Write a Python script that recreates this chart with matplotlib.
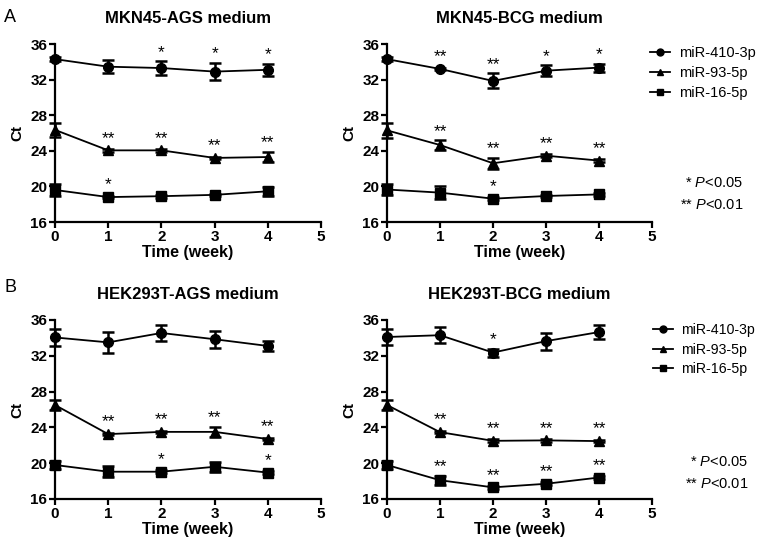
import numpy as np
import matplotlib.pyplot as plt
from matplotlib.lines import Line2D

plt.rcParams['font.family'] = ['Liberation Sans', 'DejaVu Sans']
plt.rcParams['mathtext.fontset'] = 'custom'
plt.rcParams['mathtext.it'] = 'Liberation Sans:italic'
plt.rcParams['mathtext.rm'] = 'Liberation Sans'

weeks = [0, 1, 2, 3, 4]
mirnas = ['miR-410-3p', 'miR-93-5p', 'miR-16-5p']
markers = ['o', '^', 's']

# MKN45-AGS medium
mkn_ags_410 = [34.3, 33.45, 33.3, 32.9, 33.1]
mkn_ags_410_err = [0.2, 0.75, 0.75, 1.0, 0.7]
mkn_ags_93 = [26.35, 24.05, 24.05, 23.2, 23.3]
mkn_ags_93_err = [0.75, 0.15, 0.15, 0.15, 0.6]
mkn_ags_16 = [19.6, 18.8, 18.9, 19.05, 19.45]
mkn_ags_16_err = [0.65, 0.15, 0.15, 0.15, 0.5]
mkn_ags_stars = [['', '', '*', '*', '*'],
                 ['', '**', '**', '**', '**'],
                 ['', '*', '', '', '']]

# MKN45-BCG medium
mkn_bcg_410 = [34.3, 33.2, 31.85, 33.0, 33.35]
mkn_bcg_410_err = [0.2, 0.15, 0.85, 0.6, 0.45]
mkn_bcg_93 = [26.3, 24.65, 22.6, 23.45, 22.9]
mkn_bcg_93_err = [0.85, 0.55, 0.6, 0.15, 0.15]
mkn_bcg_16 = [19.65, 19.3, 18.62, 18.92, 19.1]
mkn_bcg_16_err = [0.65, 0.7, 0.15, 0.15, 0.15]
mkn_bcg_stars = [['', '**', '**', '*', '*'],
                 ['', '**', '**', '**', '**'],
                 ['', '', '*', '', '']]

# HEK293T-AGS medium
hek_ags_410 = [34.05, 33.5, 34.55, 33.85, 33.1]
hek_ags_410_err = [1.0, 1.15, 0.9, 0.95, 0.6]
hek_ags_93 = [26.5, 23.25, 23.5, 23.5, 22.7]
hek_ags_93_err = [0.55, 0.15, 0.15, 0.55, 0.15]
hek_ags_16 = [19.8, 19.05, 19.05, 19.6, 18.95]
hek_ags_16_err = [0.45, 0.6, 0.15, 0.57, 0.15]
hek_ags_stars = [['', '', '', '', ''],
                 ['', '**', '**', '**', '**'],
                 ['', '', '*', '', '*']]

# HEK293T-BCG medium
hek_bcg_410 = [34.1, 34.3, 32.36, 33.64, 34.65]
hek_bcg_410_err = [0.9, 0.9, 0.44, 0.95, 0.78]
hek_bcg_93 = [26.5, 23.47, 22.5, 22.55, 22.47]
hek_bcg_93_err = [0.55, 0.15, 0.15, 0.15, 0.15]
hek_bcg_16 = [19.8, 18.1, 17.3, 17.7, 18.4]
hek_bcg_16_err = [0.5, 0.5, 0.15, 0.15, 0.15]
hek_bcg_stars = [['', '', '*', '', ''],
                 ['', '**', '**', '**', '**'],
                 ['', '**', '**', '**', '**']]

panels = [
    ('MKN45-AGS medium', [mkn_ags_410, mkn_ags_93, mkn_ags_16],
     [mkn_ags_410_err, mkn_ags_93_err, mkn_ags_16_err], mkn_ags_stars),
    ('MKN45-BCG medium', [mkn_bcg_410, mkn_bcg_93, mkn_bcg_16],
     [mkn_bcg_410_err, mkn_bcg_93_err, mkn_bcg_16_err], mkn_bcg_stars),
    ('HEK293T-AGS medium', [hek_ags_410, hek_ags_93, hek_ags_16],
     [hek_ags_410_err, hek_ags_93_err, hek_ags_16_err], hek_ags_stars),
    ('HEK293T-BCG medium', [hek_bcg_410, hek_bcg_93, hek_bcg_16],
     [hek_bcg_410_err, hek_bcg_93_err, hek_bcg_16_err], hek_bcg_stars),
]

fig = plt.figure(figsize=(7.6, 5.42), dpi=100)
W, H = 760, 542
boxes = [(55, 44, 321, 222), (387, 44, 652, 222),
         (55, 320, 321, 499), (387, 320, 652, 499)]

for (title, vals, errs, stars), (x0, y0, x1, y1) in zip(panels, boxes):
    ax = fig.add_axes([x0 / W, 1 - y1 / H, (x1 - x0) / W, (y1 - y0) / H])
    for v, e, m, st in zip(vals, errs, markers, stars):
        ms = 6.5 if m == 's' else 7
        ax.errorbar(weeks, v, yerr=e, color='black', marker=m, ms=ms,
                    lw=1.3, elinewidth=1.8, capsize=4.5, capthick=1.8,
                    clip_on=False, zorder=3)
        for x, vv, ee, s in zip(weeks, v, e, st):
            if s:
                ax.annotate(s, (x, vv + max(ee, 0.35)), xytext=(0, 1),
                            textcoords='offset points', ha='center',
                            va='bottom', fontsize=12.5)
    ax.set_xlim(0, 5)
    ax.set_ylim(16, 36)
    ax.set_xticks([0, 1, 2, 3, 4, 5])
    ax.set_yticks([16, 20, 24, 28, 32, 36])
    for side in ['top', 'right']:
        ax.spines[side].set_visible(False)
    for side in ['left', 'bottom']:
        ax.spines[side].set_linewidth(1.6)
    ax.tick_params(width=1.6, length=4, labelsize=11, pad=1.5)
    for lab in ax.get_xticklabels() + ax.get_yticklabels():
        lab.set_fontweight('bold')
    ax.set_xlabel('Time (week)', fontsize=11.5, fontweight='bold', labelpad=1)
    ax.set_ylabel('Ct', fontsize=11, fontweight='bold', labelpad=4)
    ax.set_title(title, fontsize=12, fontweight='bold', pad=15)

fig.text(10 / W, 1 - 18 / H, 'A', fontsize=13, ha='center', va='center')
fig.text(10 / W, 1 - 288 / H, 'B', fontsize=13, ha='center', va='center')

handles = [Line2D([], [], color='black', marker=m, ms=5, lw=1.3)
           for m in markers]
for lx, ly, fs in [(650, 46, 10.5), (653, 323, 10.2)]:
    fig.legend(handles, mirnas, loc='upper left',
               bbox_to_anchor=(lx / W, 1 - ly / H), frameon=False,
               fontsize=fs, handlelength=1.4, handletextpad=0.6,
               labelspacing=0.4, borderpad=0, borderaxespad=0)

for px, py in [(743, 183), (748, 462)]:
    fig.text(px / W, 1 - py / H, r'* $\it{P}$<0.05', fontsize=10.5,
             ha='right', va='center')
    fig.text(px / W, 1 - (py + 22) / H, r'** $\it{P}$<0.01', fontsize=10.5,
             ha='right', va='center')

fig.savefig('out.png', dpi=100)
